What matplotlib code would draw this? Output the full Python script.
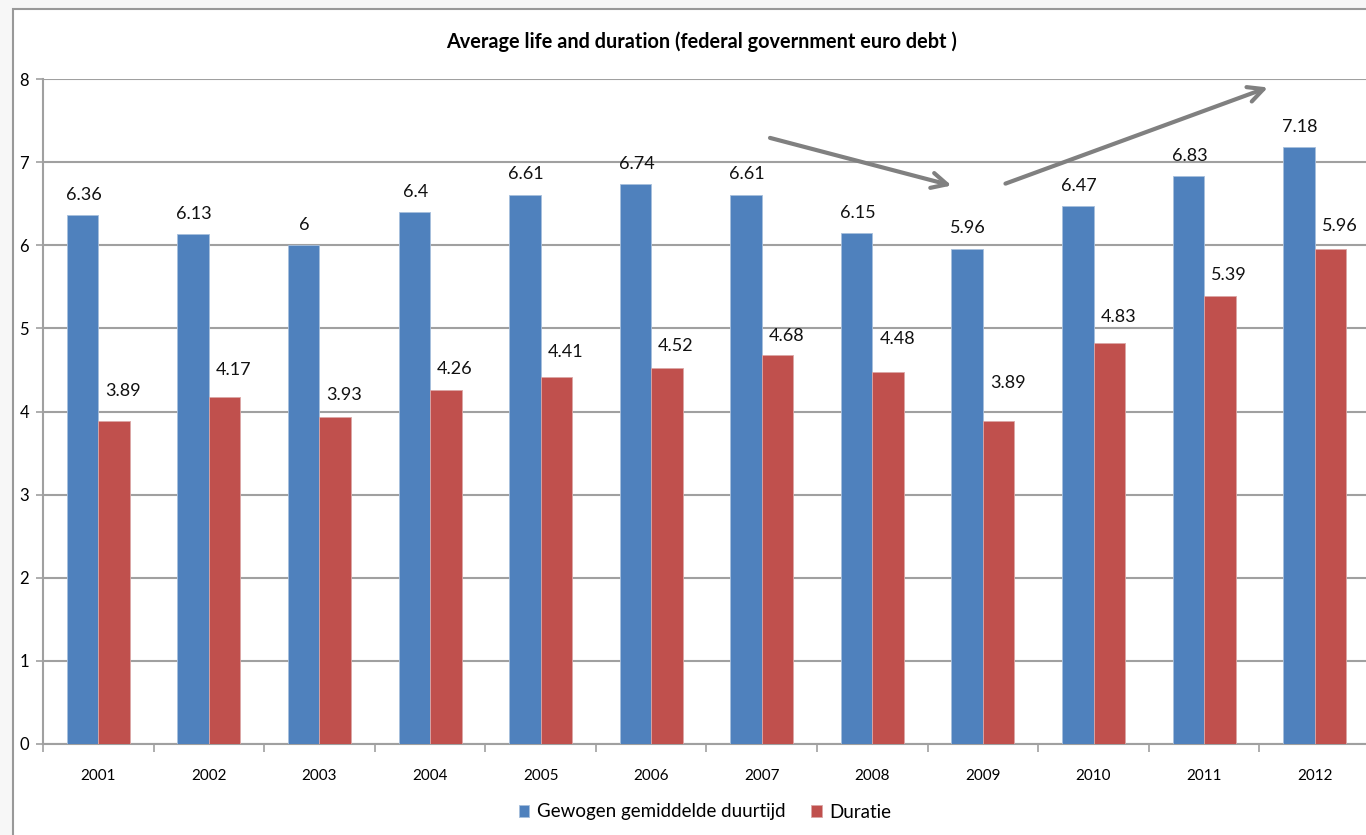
import numpy as np
import matplotlib.pyplot as plt
from matplotlib.patches import Rectangle

years = ["2001", "2002", "2003", "2004", "2005", "2006", "2007", "2008", "2009", "2010", "2011", "2012"]
gewogen = [6.36, 6.13, 6.0, 6.4, 6.61, 6.74, 6.61, 6.15, 5.96, 6.47, 6.83, 7.18]
duratie = [3.89, 4.17, 3.93, 4.26, 4.41, 4.52, 4.68, 4.48, 3.89, 4.83, 5.39, 5.96]
gewogen_lbl = ["6.36", "6.13", "6", "6.4", "6.61", "6.74", "6.61", "6.15", "5.96", "6.47", "6.83", "7.18"]
duratie_lbl = ["3.89", "4.17", "3.93", "4.26", "4.41", "4.52", "4.68", "4.48", "3.89", "4.83", "5.39", "5.96"]
# vertical offset (points) of the red labels, placed by hand in the original
duratie_lbl_dy = [21.5, 19.5, 16, 15, 18.5, 16, 14, 23.5, 27, 18.5, 15, 16]

plt.rcParams['font.family'] = ['Lato', 'DejaVu Sans']

W, H = 1366, 835
fig = plt.figure(figsize=(W / 100, H / 100), dpi=100)
fig.patch.set_facecolor('#f7f7f7')
# chart box (white, cut off at right and bottom)
fig.patches.append(Rectangle((13 / W, -0.1), 1.2, (H - 9) / H + 0.1, transform=fig.transFigure,
                             facecolor='white', edgecolor='#999999', linewidth=1.5, zorder=-5))

ax = fig.add_axes([43 / W, (H - 744) / H, 1327 / W, 665 / H])
ax.set_facecolor('none')
ax.set_zorder(2)

x = np.arange(len(years))
w = 0.285
grey = '#a0a0a0'
b1 = ax.bar(x - w / 2, gewogen, w, color='#4f81bd', edgecolor='#a7bfdc', linewidth=0.6,
            label='Gewogen gemiddelde duurtijd', zorder=3)
b2 = ax.bar(x + w / 2, duratie, w, color='#c0504d', edgecolor='#dba6a5', linewidth=0.6,
            label='Duratie', zorder=3)

for xi, v, s in zip(x, gewogen, gewogen_lbl):
    ax.annotate(s, (xi - w / 2, v), xytext=(0.7, 14.5), textcoords='offset points',
                ha='center', va='center', fontsize=13, color='#111111')
for xi, v, s, dy in zip(x, duratie, duratie_lbl, duratie_lbl_dy):
    ax.annotate(s, (xi + w / 2, v), xytext=(6.5, dy), textcoords='offset points',
                ha='center', va='center', fontsize=13, color='#111111')

ax.set_xlim(-0.5, 11.5)
ax.set_ylim(0, 8)
ax.set_yticks(range(0, 9))
ax.yaxis.grid(True, color=grey, linewidth=1.5, zorder=0)
ax.set_axisbelow(True)

ax.set_xticks(np.arange(-0.5, 11.5, 1.0), minor=False)
ax.set_xticklabels([])
ax.set_xticks(x, minor=True)
ax.set_xticklabels(years, minor=True, fontsize=11)
ax.tick_params(axis='x', which='minor', length=0, pad=18)
ax.tick_params(axis='x', which='major', length=6, color=grey, width=1.2)
ax.tick_params(axis='y', length=5, color=grey, width=1.2, labelsize=12, pad=5)

for side in ['top', 'right']:
    ax.spines[side].set_visible(False)
for side in ['left', 'bottom']:
    ax.spines[side].set_color(grey)
    ax.spines[side].set_linewidth(1.5)

# trend arrows
arrow_kw = dict(arrowstyle='->,head_length=1.1,head_width=0.55', color='#808080', lw=3)
ax.annotate('', xy=(7.74, 6.71), xytext=(6.05, 7.30), arrowprops=arrow_kw, annotation_clip=False)
ax.annotate('', xy=(10.60, 7.91), xytext=(8.18, 6.73), arrowprops=arrow_kw, annotation_clip=False)

fig.text(702 / W, 1 - 42 / H, 'Average life and duration (federal government euro debt )',
         ha='center', va='center', fontsize=14.3, fontweight='bold')

fig.legend(handles=[b1, b2], loc='center', bbox_to_anchor=(705 / W, 1 - 812 / H), ncol=2,
           frameon=False, fontsize=13.5, handlelength=0.55, handleheight=0.55, handletextpad=0.4,
           columnspacing=1.4)

plt.savefig('out.png', dpi=100, facecolor=fig.get_facecolor())
